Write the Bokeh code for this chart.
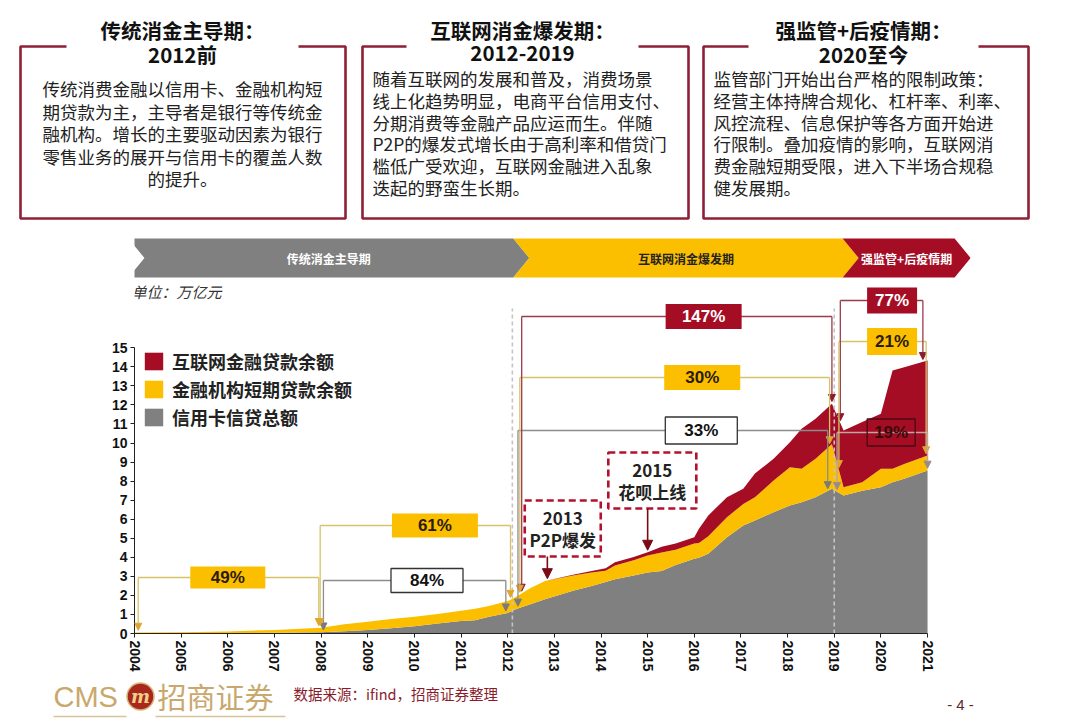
import numpy as np
from bokeh.plotting import figure
from bokeh.models import (Range1d, ColumnDataSource, Legend, LegendItem, FixedTicker,
                          Label, Arrow, NormalHead)
from bokeh.core.properties import value
from bokeh.embed import file_html
from bokeh.resources import INLINE

# ------------------------------------------------------------------ data
years = [2004.0, 2005.0, 2006.0, 2007.0, 2008.0, 2008.5, 2009.0, 2009.5, 2010.0, 2010.5,
         2011.0, 2011.3, 2011.6, 2012.0, 2012.2, 2012.5, 2012.8, 2013.4, 2013.8, 2014.1,
         2014.3, 2014.7, 2015.0, 2015.3, 2015.6, 2016.0, 2016.1, 2016.3, 2016.7, 2017.05,
         2017.3, 2017.7, 2018.05, 2018.3, 2018.6, 2018.95, 2019.2, 2019.6, 2020.0, 2020.25,
         2020.5, 2021.0]
# 信用卡信贷总额 (万亿元)
credit_card = [0.00, 0.01, 0.02, 0.04, 0.06, 0.12, 0.18, 0.28, 0.38, 0.52,
               0.66, 0.70, 0.88, 1.08, 1.30, 1.55, 1.80, 2.25, 2.50, 2.70,
               2.85, 3.05, 3.20, 3.28, 3.60, 3.92, 3.98, 4.18, 5.05, 5.67,
               5.93, 6.37, 6.72, 6.89, 7.15, 7.60, 7.24, 7.50, 7.68, 7.94,
               8.12, 8.56]
# 金融机构短期贷款余额 (万亿元, stacked above credit card)
short_term = [0.05, 0.06, 0.09, 0.15, 0.24, 0.36, 0.44, 0.48, 0.50, 0.51,
              0.54, 0.60, 0.57, 0.62, 0.65, 0.85, 0.95, 0.79, 0.70, 0.60,
              0.72, 0.80, 0.89, 0.97, 0.80, 0.80, 0.77, 0.92, 1.05, 1.13,
              1.22, 1.66, 2.01, 1.76, 2.02, 2.35, 0.44, 0.44, 0.97, 0.71,
              0.78, 0.78]
# 互联网金融贷款余额 (万亿元, stacked on top)
internet = [0, 0, 0, 0, 0, 0, 0, 0, 0, 0,
            0, 0, 0, 0, 0, 0, 0, 0.04, 0.08, 0.12,
            0.17, 0.17, 0.18, 0.30, 0.32, 0.33, 0.75, 1.10, 1.05, 0.80,
            1.25, 1.14, 1.31, 2.10, 2.10, 2.11, 2.98, 3.16, 2.88, 5.15,
            5.08, 4.99]

series_labels = ["信用卡信贷总额", "金融机构短期贷款余额", "互联网金融贷款余额"]
x_ticks = list(range(2004, 2022))
y_ticks = list(range(0, 16))

phase_names = ["传统消金主导期", "互联网消金爆发期", "强监管+后疫情期"]
phase_bounds = [2003.87, 2012.12, 2019.18, 2021.58]
phase_lines = [2012.1, 2019.0]

growth_labels = ["49%", "84%", "61%", "147%", "30%", "33%", "77%", "21%", "19%"]
growth_series = ["short", "card", "short", "net", "short", "card", "net", "short", "card"]
growth_from = [2004.08, 2008.05, 2007.98, 2012.3, 2012.26, 2012.22, 2019.13, 2019.10, 2019.06]
growth_to = [2007.95, 2011.96, 2012.06, 2018.95, 2018.90, 2018.86, 2020.90, 2020.97, 2021.00]

event_years = ["2013", "2015"]
event_texts = ["P2P爆发", "花呗上线"]
event_x = [2012.85, 2015.0]

box_titles = [("传统消金主导期：", "2012前"), ("互联网消金爆发期：", "2012-2019"), ("强监管+后疫情期：", "2020至今")]
box_bodies = [
    ["传统消费金融以信用卡、金融机构短", "期贷款为主，主导者是银行等传统金", "融机构。增长的主要驱动因素为银行",
     "零售业务的展开与信用卡的覆盖人数", "的提升。"],
    ["随着互联网的发展和普及，消费场景", "线上化趋势明显，电商平台信用支付、", "分期消费等金融产品应运而生。伴随",
     "P2P的爆发式增长由于高利率和借贷门", "槛低广受欢迎，互联网金融进入乱象", "迭起的野蛮生长期。"],
    ["监管部门开始出台严格的限制政策：", "经营主体持牌合规化、杠杆率、利率、", "风控流程、信息保护等各方面开始进",
     "行限制。叠加疫情的影响，互联网消", "费金融短期受限，进入下半场合规稳", "健发展期。"],
]

# ------------------------------------------------------------------ styles
GRAY = "#808080"
YELLOW = "#fbbf00"
RED = "#a50d25"
MAROON = "#8e1f36"
CJK = "Noto Sans CJK SC"
LAT = "Liberation Sans"

# layout of the main chart (reference pixels)
PXY = 46.65      # px per year
PXV = 19.05      # px per unit
X0PX, Y0PX = 134, 633


def fx(px):
    return 2004 + (px - X0PX) / PXY


def fy(py):
    return (Y0PX - py) / PXV


# ------------------------------------------------------------------ top figure (text boxes)
top = figure(width=1080, height=230, x_range=Range1d(0, 1080), y_range=Range1d(230, 0),
             x_axis_type=None, y_axis_type=None, min_border=0, toolbar_location=None,
             tools="", output_backend="svg", outline_line_color=None)
top.grid.visible = False

box_geo = [(20, 345, 66, 298), (362, 688, 406, 638), (703, 1028, 748, 978)]
BT, BB = 46, 218
xs, ys = [], []
for L, R, g1, g2 in box_geo:
    xs.append([g1, L, L, R, R, g2])
    ys.append([BT, BT, BB, BB, BT, BT])
top.multi_line(xs, ys, line_color=MAROON, line_width=2.6)

for (L, R, g1, g2), (t1, t2) in zip(box_geo, box_titles):
    cx = (g1 + g2) / 2
    top.text(x=[cx, cx], y=[29, 53], text=[t1, t2], text_align="center", text_baseline="middle",
             text_font=value(CJK), text_font_style="bold", text_font_size="20.5px", text_color="#111111")

b0 = box_bodies[0]
top.text(x=[182] * len(b0), y=[88 + 22.5 * i for i in range(len(b0))], text=b0,
         text_align="center", text_baseline="middle", text_font=value(CJK),
         text_font_size="17.5px", text_color="#222222")
for (L, R, g1, g2), body in zip(box_geo[1:], box_bodies[1:]):
    top.text(x=[L + 10] * len(body), y=[78 + 21.8 * i for i in range(len(body))], text=body,
             text_align="left", text_baseline="middle", text_font=value(CJK),
             text_font_size="17.5px", text_color="#222222")

# ------------------------------------------------------------------ main chart
p = figure(frame_width=836, frame_height=403, min_border_left=134, min_border_right=110,
           min_border_top=0, min_border_bottom=43,
           x_range=Range1d(2004, fx(970)), y_range=Range1d(0, fy(230)),
           toolbar_location=None, tools="", output_backend="svg", outline_line_color=None)
p.grid.visible = False

src = ColumnDataSource(dict(year=years, card=credit_card, short=short_term, net=internet))
areas = p.varea_stack(["card", "short", "net"], x="year", source=src, color=[GRAY, YELLOW, RED])

card_top = np.array(credit_card)
short_top = card_top + np.array(short_term)
net_top = short_top + np.array(internet)
tops = {"card": card_top, "short": short_top, "net": net_top}


def top_at(series, x):
    return float(np.interp(x, years, tops[series]))


# banner chevrons
b_top, b_bot = fy(238), fy(277)
b_mid = (b_top + b_bot) / 2
d = 16 / PXY
ph_colors = [GRAY, YELLOW, RED]
ph_text_colors = ["white", "#222222", "white"]
for i, name in enumerate(phase_names):
    a, b = phase_bounds[i], phase_bounds[i + 1]
    p.patch([a, a + d, a, b, b + d, b], [b_top, b_mid, b_bot, b_bot, b_mid, b_top],
            fill_color=ph_colors[i], line_color=None)
    p.text(x=[(a + b + d) / 2], y=[b_mid], text=[name], text_align="center", text_baseline="middle",
           text_font=value(CJK), text_font_style="bold", text_font_size="12px",
           text_color=ph_text_colors[i])

p.add_layout(Label(x=fx(131), y=fy(291), text="单位：万亿元", text_font=CJK, text_font_style="italic",
                   text_font_size="15px", text_baseline="middle", text_color="#333333"))

# phase separators
p.segment(x0=phase_lines, y0=[0, 0], x1=phase_lines, y1=[fy(308)] * 2,
          line_color="#c4c4c4", line_width=1.6, line_dash="4 3")

# growth brackets
levels_px = [577, 580, 525, 316, 377, 430, 300, 341, 432]
box_cx = [2006.0, 2010.27, 2010.44, 2016.2, 2016.17, 2016.15, 2020.24, 2020.24, 2020.22]
box_w = [75, 72, 86, 76, 76, 72, 50, 50, 48]
box_h = [22, 24, 24, 25, 25, 27, 26, 27, 27]
styles = {
    "short": dict(line="#d5c36a", head="#e0a52a", fill=YELLOW, border=None, text="#2b1b0b"),
    "card": dict(line="#8c8c8c", head="#7a7a7a", fill="white", border="#333333", text="#111111"),
    "net": dict(line="#9b3b4b", head="#8b1a2b", fill=RED, border=None, text="white"),
}
for i, lab in enumerate(growth_labels):
    s = growth_series[i]
    st = dict(styles[s])
    if lab == "19%":
        st = dict(line="#bfa5a5", head="#9a8a8a", fill=None, border="#4a0a10", text="#3a0a0a")
    lvl = fy(levels_px[i])
    xl, xr = growth_from[i], growth_to[i]
    p.segment(x0=[xl], y0=[lvl], x1=[xr], y1=[lvl], line_color=st["line"], line_width=1.3)
    for xx in (xl, xr):
        tip = top_at(s, xx) + 0.12
        p.add_layout(Arrow(end=NormalHead(size=7, fill_color=st["head"], line_color=st["head"]),
                           x_start=xx, y_start=lvl, x_end=xx, y_end=tip,
                           line_color=st["line"], line_width=1.3))
    p.rect(x=[box_cx[i]], y=[lvl], width=box_w[i], height=box_h[i], width_units="screen",
           height_units="screen", fill_color=st["fill"], fill_alpha=1 if st["fill"] else 0,
           line_color=st["border"], line_width=1.3, line_alpha=1 if st["border"] else 0)
    p.text(x=[box_cx[i]], y=[lvl], text=[lab], text_align="center", text_baseline="middle",
           text_font=value(LAT), text_font_style="bold", text_font_size="17px", text_color=st["text"])

# event boxes
ev_cx = [2013.18, 2015.1]
ev_cy = [fy(528), fy(480)]
ev_w = [76, 88]
ev_h = [56, 56]
for i in range(2):
    p.rect(x=[ev_cx[i]], y=[ev_cy[i]], width=ev_w[i], height=ev_h[i], width_units="screen",
           height_units="screen", fill_color="white", fill_alpha=0.0, line_color="#b3122e",
           line_width=2.6, line_dash="7 4")
    p.text(x=[ev_cx[i], ev_cx[i]], y=[ev_cy[i] + 10 / PXV, ev_cy[i] - 11 / PXV],
           text=[event_years[i], event_texts[i]], text_align="center", text_baseline="middle",
           text_font=value(CJK), text_font_style="bold", text_font_size="17px", text_color="#222222")
    ybot = ev_cy[i] - ev_h[i] / 2 / PXV
    p.add_layout(Arrow(end=NormalHead(size=10, fill_color="#7a0a14", line_color="#7a0a14"),
                       x_start=event_x[i], y_start=ybot, x_end=event_x[i],
                       y_end=top_at("net", event_x[i]) + 0.1, line_color="#7a0a14", line_width=1.6))

legend = Legend(items=[LegendItem(label=series_labels[2], renderers=[areas[2]]),
                       LegendItem(label=series_labels[1], renderers=[areas[1]]),
                       LegendItem(label=series_labels[0], renderers=[areas[0]])],
                location=(8, 203), padding=0, margin=0, spacing=2, glyph_width=23, glyph_height=22,
                label_standoff=7, label_text_font=CJK, label_text_font_style="bold",
                label_text_font_size="18px", label_text_color="#222222",
                border_line_color=None, background_fill_alpha=0)
p.add_layout(legend)

p.xaxis.ticker = FixedTicker(ticks=x_ticks)
p.yaxis.ticker = FixedTicker(ticks=y_ticks)
p.xaxis.bounds = (x_ticks[0], x_ticks[-1])
p.yaxis.bounds = (y_ticks[0], y_ticks[-1])
p.xaxis.major_label_orientation = "vertical"
for ax in (p.xaxis, p.yaxis):
    ax.major_label_text_font = LAT
    ax.major_label_text_font_style = "bold"
    ax.major_label_text_font_size = "14px"
    ax.major_label_text_color = "#111111"
    ax.axis_line_color = "#222222"
    ax.major_tick_line_color = "#222222"
    ax.major_tick_in = 0
    ax.major_tick_out = 4
    ax.minor_tick_line_color = None
    ax.major_label_standoff = 3

# ------------------------------------------------------------------ footer
foot = figure(width=1080, height=43, x_range=Range1d(0, 1080), y_range=Range1d(719, 676),
              x_axis_type=None, y_axis_type=None, min_border=0, toolbar_location=None,
              tools="", output_backend="svg", outline_line_color=None)
foot.grid.visible = False
foot.text(x=[53], y=[696], text=["CMS"], text_font=value(LAT), text_font_size="29px",
          text_color="#c9a86e", text_baseline="middle")
foot.scatter(x=[140], y=[696], marker="circle", size=27, fill_color="#a8281e", line_color="#d9b87a",
             line_width=1.5)
foot.text(x=[140], y=[696], text=["m"], text_font=value("DejaVu Serif"), text_font_style="bold italic",
          text_font_size="18px", text_color="#f1d08a", text_align="center", text_baseline="middle")
foot.text(x=[157], y=[695], text=["招商证券"], text_font=value(CJK), text_font_size="29px",
          text_color="#c9a86e", text_baseline="middle")
foot.segment(x0=[53, 155], y0=[716, 716], x1=[126, 285], y1=[716, 716], line_color="#d8c39a",
             line_width=1.5)
foot.text(x=[293], y=[693], text=["数据来源：ifind，招商证券整理"], text_font=value(CJK),
          text_font_size="14.5px", text_color="#8b1a2b", text_baseline="middle")
foot.text(x=[960], y=[704], text=["- 4 -"], text_font=value(LAT), text_font_size="15px",
          text_color="#5a2a30", text_align="center", text_baseline="middle")

open("out.html", "w").write(file_html([top, p, foot], INLINE))
